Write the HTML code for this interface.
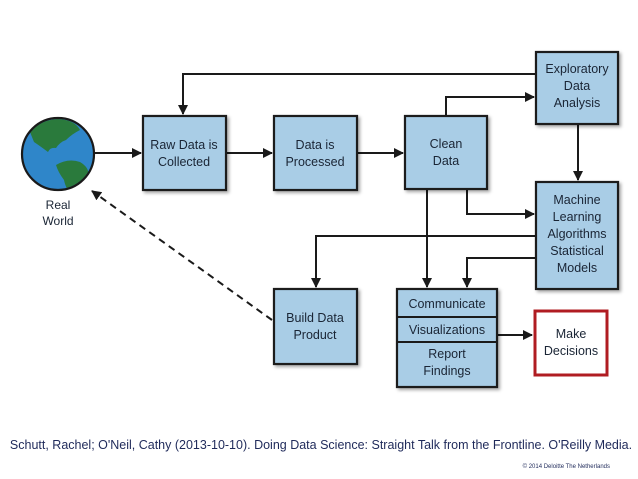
<!DOCTYPE html>
<html><head><meta charset="utf-8"><style>
html,body{margin:0;padding:0;background:#fff;}
svg{display:block;}
.bx{fill:#a9cde6;stroke:#1a1a1a;stroke-width:2.2;}
.t{font-family:"Liberation Sans",sans-serif;font-size:12.5px;fill:#1a2535;text-anchor:middle;}
.ln{stroke:#1a1a1a;stroke-width:2;fill:none;}
</style></head><body>
<svg width="638" height="479" viewBox="0 0 638 479">
<defs>
<marker id="a" markerWidth="10" markerHeight="10" refX="9" refY="5" orient="auto" markerUnits="userSpaceOnUse"><path d="M0,0 L10,5 L0,10 Z" fill="#1a1a1a"/></marker>
<filter id="sh"><feDropShadow dx="2" dy="2" stdDeviation="1.5" flood-color="#000" flood-opacity="0.35"/></filter>
<clipPath id="gc"><circle cx="58" cy="154" r="35"/></clipPath>
</defs>
<path class="ln" d="M536,74 H183 V114" marker-end="url(#a)"/>
<path class="ln" d="M94,153 H141" marker-end="url(#a)"/>
<path class="ln" d="M226,153 H272" marker-end="url(#a)"/>
<path class="ln" d="M357,153 H403" marker-end="url(#a)"/>
<path class="ln" d="M446,116 V97 H534" marker-end="url(#a)"/>
<path class="ln" d="M578,124 V180" marker-end="url(#a)"/>
<path class="ln" d="M467,189 V214 H534" marker-end="url(#a)"/>
<path class="ln" d="M536,236 H316 V287" marker-end="url(#a)"/>
<path class="ln" d="M536,258 H467 V287" marker-end="url(#a)"/>
<path class="ln" d="M427,189 V287" marker-end="url(#a)"/>
<path class="ln" d="M497,335 H532" marker-end="url(#a)"/>
<path class="ln" d="M272,320 L92,191" stroke-dasharray="7,5" marker-end="url(#a)"/>
<circle cx="58" cy="154" r="36" fill="#2f86c9"/>
<g clip-path="url(#gc)" fill="#2a7a3c">
<path d="M30,132 Q40,120 58,119 Q75,120 80,130 Q72,134 66,140 Q60,142 56,148 Q50,147 48,152 Q40,146 34,142 Z"/>
<path d="M56,165 Q68,158 80,162 Q90,168 88,176 Q80,186 72,194 Q66,190 64,180 Q58,172 56,165 Z"/>
</g>
<circle cx="58" cy="154" r="36" fill="none" stroke="#1a1a1a" stroke-width="2.2"/>
<text class="t" x="58" y="209" style="font-size:12px">Real</text>
<text class="t" x="58" y="225" style="font-size:12px">World</text>
<g filter="url(#sh)">
<rect class="bx" x="143" y="116" width="83" height="74"/>
<rect class="bx" x="274" y="116" width="83" height="74"/>
<rect class="bx" x="405" y="116" width="82" height="73"/>
<rect class="bx" x="536" y="52" width="82" height="72"/>
<rect class="bx" x="536" y="182" width="82" height="107"/>
<rect class="bx" x="274" y="289" width="83" height="75"/>
<rect class="bx" x="397" y="289" width="100" height="98"/>
</g>
<line class="ln" x1="397" y1="317" x2="497" y2="317"/>
<line class="ln" x1="397" y1="342" x2="497" y2="342"/>
<rect x="535" y="311" width="72" height="64" fill="#fff" stroke="#b01c22" stroke-width="3"/>
<text class="t" x="184" y="149">Raw Data is</text>
<text class="t" x="184" y="166">Collected</text>
<text class="t" x="315" y="149">Data is</text>
<text class="t" x="315" y="166">Processed</text>
<text class="t" x="446" y="148">Clean</text>
<text class="t" x="446" y="165">Data</text>
<text class="t" x="577" y="73">Exploratory</text>
<text class="t" x="577" y="90">Data</text>
<text class="t" x="577" y="107">Analysis</text>
<text class="t" x="577" y="204">Machine</text>
<text class="t" x="577" y="221">Learning</text>
<text class="t" x="577" y="238">Algorithms</text>
<text class="t" x="577" y="255">Statistical</text>
<text class="t" x="577" y="272">Models</text>
<text class="t" x="315" y="322">Build Data</text>
<text class="t" x="315" y="339">Product</text>
<text class="t" x="447" y="308">Communicate</text>
<text class="t" x="447" y="334">Visualizations</text>
<text class="t" x="447" y="358">Report</text>
<text class="t" x="447" y="375">Findings</text>
<text class="t" x="571" y="338">Make</text>
<text class="t" x="571" y="355">Decisions</text>
<text x="321" y="449" style="font-family:'Liberation Sans',sans-serif;font-size:12.5px;fill:#1f2a5a;text-anchor:middle">Schutt, Rachel; O'Neil, Cathy (2013-10-10). Doing Data Science: Straight Talk from the Frontline. O'Reilly Media.</text>
<text x="610" y="468" style="font-family:'Liberation Sans',sans-serif;font-size:6px;fill:#1f2a5a;text-anchor:end">© 2014 Deloitte The Netherlands</text>
</svg>
</body></html>
